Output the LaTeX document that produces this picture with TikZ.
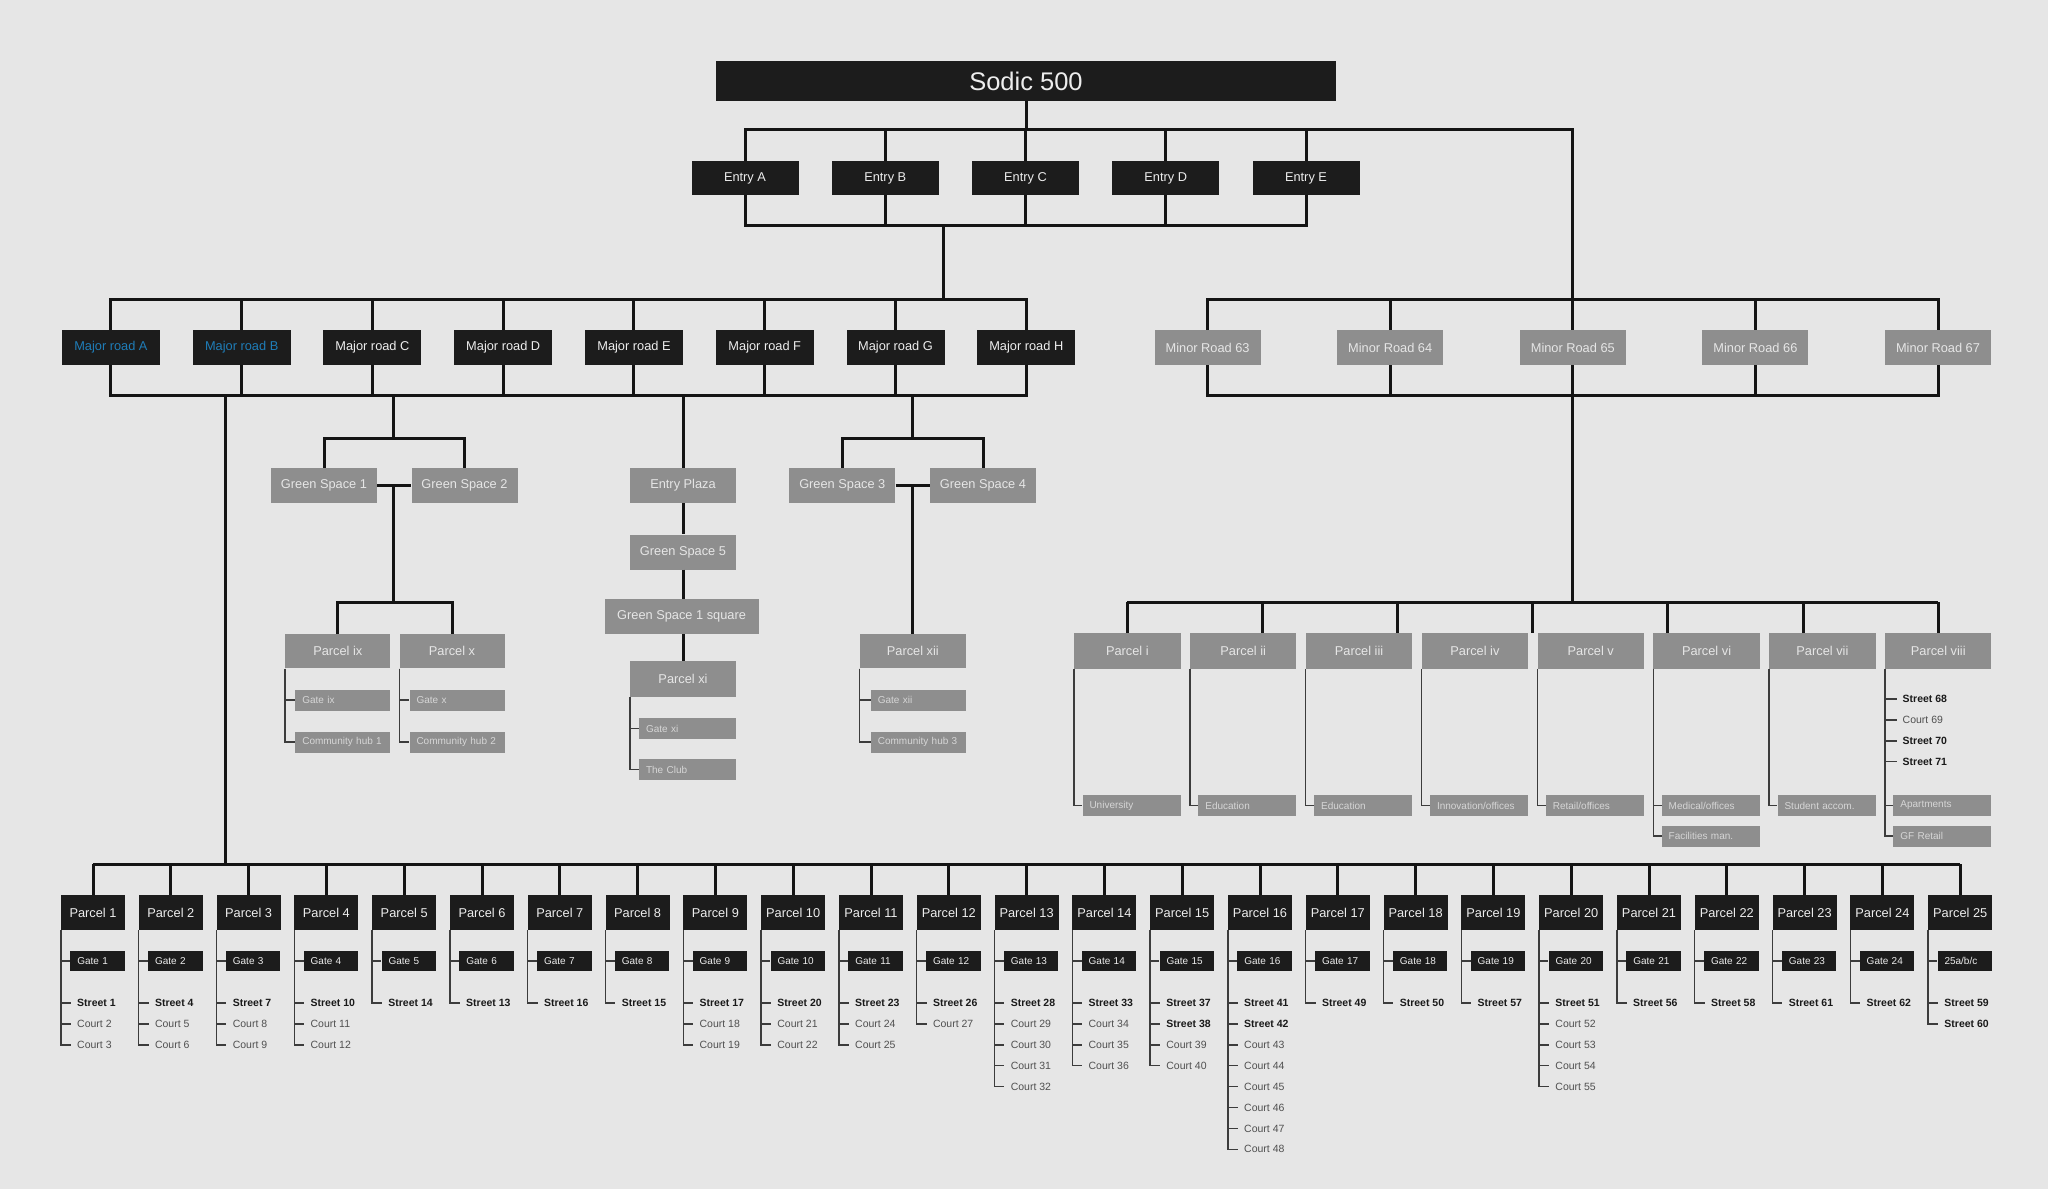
\documentclass[tikz,border=0pt]{standalone}
\usepackage{fontspec}
\setmainfont{Liberation Sans}
\definecolor{bg}{HTML}{E6E6E6}
\definecolor{boxblack}{HTML}{1C1C1C}
\definecolor{boxgray}{HTML}{8E8E8E}
\definecolor{boxtext}{HTML}{EDEDED}
\definecolor{graytext}{HTML}{E6E6E6}
\definecolor{subtext}{HTML}{D6D6D6}
\definecolor{linec}{HTML}{141414}
\definecolor{thinc}{HTML}{3C3C3C}
\definecolor{roadblue}{HTML}{1F7DB8}
\definecolor{streetc}{HTML}{1A1A1A}
\definecolor{courtc}{HTML}{505050}
\def\nmS{Street}
\def\nmC{Court}
\begin{document}
\begin{tikzpicture}[x=1pt,y=-1pt,
  box/.style={inner sep=0pt, minimum height=35pt, font=\fontsize{12.8}{15}\selectfont},
  blk/.style={box, fill=boxblack, text=boxtext},
  gry/.style={box, fill=boxgray, text=graytext},
  conn/.style={draw=linec, line width=3pt},
  thin/.style={draw=thinc, line width=1.4pt},
  gateb/.style={fill=boxblack, text=boxtext, inner xsep=7pt, inner ysep=0pt, minimum height=20.5pt, text width=40.5pt, align=left, anchor=east, font=\fontsize{10}{12}\selectfont},
  gsub/.style={fill=boxgray, text=subtext, inner xsep=7pt, inner ysep=0pt, minimum height=21pt, text width=#1, align=left, anchor=east, font=\fontsize{10}{12}\selectfont},
  gsub/.default=81pt,
  rowS/.style={anchor=west, inner sep=0pt, font=\fontsize{10.5}{12}\selectfont\bfseries, text=streetc},
  rowC/.style={anchor=west, inner sep=0pt, font=\fontsize{10.5}{12}\selectfont, text=courtc}]
\fill[bg] (0,0) rectangle (2048,1189);
\useasboundingbox (0,0) rectangle (2048,1189);

% level coordinates
\coordinate (tb) at (0,129);
\coordinate (ebar) at (0,225);
\coordinate (mtop) at (0,299);
\coordinate (mbot) at (0,395);
\coordinate (gbar) at (0,438);
\coordinate (gmid) at (0,485.5);
\coordinate (pxbar) at (0,602);
\coordinate (pbar) at (0,864);
\coordinate (ya) at (0,700);
\coordinate (yb) at (0,742);
\coordinate (yc) at (0,728.5);
\coordinate (yd) at (0,769.5);
\coordinate (ye) at (0,805.5);
\coordinate (yf) at (0,836);

% top
\node[blk, minimum width=620pt, minimum height=40pt, font=\fontsize{25.5}{30}\selectfont] (sodic) at (1026,81) {Sodic 500};
\foreach \l [count=\k from 0] in {A,B,C,D,E}
  \node[blk, minimum width=107pt, minimum height=34pt] (e\l) at (745+140.25*\k,178) {Entry \l};

\foreach \l/\tc [count=\k from 0] in {A/roadblue,B/roadblue,C/boxtext,D/boxtext,E/boxtext,F/boxtext,G/boxtext,H/boxtext}
  \node[blk, minimum width=98pt, text=\tc] (m\l) at (110.9+130.77*\k,347.5) {Major road \l};

\foreach \n [count=\k from 0] in {63,64,65,66,67}
  \node[gry, minimum width=106pt] (r\n) at (1207.6+182.6*\k,347.5) {Minor Road \n};

% top connectors
\draw[conn] (sodic.south) -- (sodic.south |- tb);
\draw[conn] (eA.north) -- (eA.north |- tb) -- (r65.north |- tb) -- (r65.north);
\foreach \l in {B,C,D,E} \draw[conn] (e\l.north) -- (e\l.north |- tb);
\draw[conn] (eA.south) -- (eA.south |- ebar) -- (eE.south |- ebar) -- (eE.south);
\foreach \l in {B,C,D} \draw[conn] (e\l.south) -- (e\l.south |- ebar);
\coordinate (ej) at (943,225);
\draw[conn] (ej) -- (ej |- mtop);
\draw[conn] (mA.north) -- (mA.north |- mtop) -- (mH.north |- mtop) -- (mH.north);
\foreach \l in {B,C,D,E,F,G} \draw[conn] (m\l.north) -- (m\l.north |- mtop);
\draw[conn] (mA.south) -- (mA.south |- mbot) -- (mH.south |- mbot) -- (mH.south);
\foreach \l in {B,C,D,E,F,G} \draw[conn] (m\l.south) -- (m\l.south |- mbot);
\draw[conn] (r63.north) -- (r63.north |- mtop) -- (r67.north |- mtop) -- (r67.north);
\foreach \n in {64,66} \draw[conn] (r\n.north) -- (r\n.north |- mtop);
\draw[conn] (r63.south) -- (r63.south |- mbot) -- (r67.south |- mbot) -- (r67.south);
\foreach \n in {64,66} \draw[conn] (r\n.south) -- (r\n.south |- mbot);
\draw[conn] (r65.south) -- (r65.south |- pxbar);

% middle: green spaces 1/2
\node[gry, minimum width=106pt] (gs1) at (324,485.5) {Green Space 1};
\node[gry, minimum width=106pt] (gs2) at (464.5,485.5) {Green Space 2};
\node[gry, minimum width=105pt, minimum height=34.6pt] (pix) at (337.8,651) {Parcel ix};
\node[gry, minimum width=105pt, minimum height=34.6pt] (px) at (452,651) {Parcel x};
\node[gsub] (gix) at (pix.east |- ya) {Gate ix};
\node[gsub] (chi) at (pix.east |- yb) {Community hub 1};
\node[gsub] (gx) at (px.east |- ya) {Gate x};
\node[gsub] (chii) at (px.east |- yb) {Community hub 2};
\coordinate (d12) at (393.5,395);
\draw[conn] (d12) -- (d12 |- gbar);
\draw[conn] (gs1.north) -- (gs1.north |- gbar) -- (gs2.north |- gbar) -- (gs2.north);
\draw[conn] (gs1.east) -- (gs2.west);
\draw[conn] (d12 |- gmid) -- (d12 |- pxbar);
\draw[conn] (pix.north) -- (pix.north |- pxbar) -- (px.north |- pxbar) -- (px.north);
\draw[thin] (pix.south west) |- (gix.west);
\draw[thin] (pix.south west) |- (chi.west);
\draw[thin] (px.south west) |- (gx.west);
\draw[thin] (px.south west) |- (chii.west);

% entry plaza column
\node[gry, minimum width=106pt] (ep) at (683,485.5) {Entry Plaza};
\node[gry, minimum width=106pt] (gs5) at (683,552) {Green Space 5};
\node[gry, minimum width=154pt] (gsq) at (681.6,616.3) {Green Space 1 square};
\node[gry, minimum width=106pt, minimum height=35.6pt] (pxi) at (683,679) {Parcel xi};
\node[gsub=83pt] (gxi) at (pxi.east |- yc) {Gate xi};
\node[gsub=83pt] (club) at (pxi.east |- yd) {The Club};
\draw[conn] (ep.north |- mbot) -- (ep.north);
\draw[conn] (ep.south) -- (gs5.north);
\draw[conn] (gs5.south) -- (gs5.south |- gsq.north);
\draw[conn] (gsq.south -| pxi.north) -- (pxi.north);
\draw[thin] (pxi.south west) |- (gxi.west);
\draw[thin] (pxi.south west) |- (club.west);

% green spaces 3/4
\node[gry, minimum width=106pt] (gs3) at (842.3,485.5) {Green Space 3};
\node[gry, minimum width=106pt] (gs4) at (983,485.5) {Green Space 4};
\node[gry, minimum width=106pt, minimum height=34.6pt] (pxii) at (912.8,651) {Parcel xii};
\node[gsub] (gxii) at (pxii.east |- ya) {Gate xii};
\node[gsub] (chiii) at (pxii.east |- yb) {Community hub 3};
\coordinate (d34) at (912.8,395);
\draw[conn] (d34) -- (d34 |- gbar);
\draw[conn] (gs3.north) -- (gs3.north |- gbar) -- (gs4.north |- gbar) -- (gs4.north);
\draw[conn] (gs3.east) -- (gs4.west);
\draw[conn] (d34 |- gmid) -- (pxii.north);
\draw[thin] (pxii.south west) |- (gxii.west);
\draw[thin] (pxii.south west) |- (chiii.west);

% parcels i - viii
\foreach \r [count=\k from 0] in {i,ii,iii,iv,v,vi,vii,viii}
  \node[gry, minimum width=106.3pt, minimum height=35.4pt] (q\r) at (1127.35+115.84*\k,651) {Parcel \r};
\foreach \k in {0,...,6} {
  \coordinate (dq\k) at (1127.35+135.14*\k,633.3);
  \draw[conn] (dq\k |- pxbar) -- (dq\k);
}
\draw[conn] (qi.north |- pxbar) -- (qviii.north |- pxbar);
\foreach \r/\lab in {i/University, ii/Education, iii/Education, iv/Innovation\slash offices, v/Retail\slash offices, vi/Medical\slash offices, vii/Student accom., viii/Apartments} {
  \node[gsub=84pt] (u\r) at (q\r.east |- ye) {\lab};
  \draw[thin] (q\r.south west) |- (u\r.west);
}
\node[gsub=84pt] (fm) at (qvi.east |- yf) {Facilities man.};
\draw[thin] (qvi.south west) |- (fm.west);
\node[gsub=84pt] (gfr) at (qviii.east |- yf) {GF Retail};
\draw[thin] (qviii.south west) |- (gfr.west);
\foreach \tp/\n [count=\j from 0] in {S/68,C/69,S/70,S/71} {
  \node[row\tp] (v\n) at (1902.5,699+20.9*\j) {\csname nm\tp\endcsname\ \n};
  \draw[thin] (qviii.south west |- v\n.west) -- ++(12,0);
}

% parcels 1 - 25
\coordinate (dl) at (225,395);
\draw[conn] (dl) -- (dl |- pbar);
\foreach \i/\items in {1/{S/1,C/2,C/3}, 2/{S/4,C/5,C/6}, 3/{S/7,C/8,C/9}, 4/{S/10,C/11,C/12}, 5/{S/14}, 6/{S/13}, 7/{S/16}, 8/{S/15}, 9/{S/17,C/18,C/19}, 10/{S/20,C/21,C/22}, 11/{S/23,C/24,C/25}, 12/{S/26,C/27}, 13/{S/28,C/29,C/30,C/31,C/32}, 14/{S/33,C/34,C/35,C/36}, 15/{S/37,S/38,C/39,C/40}, 16/{S/41,S/42,C/43,C/44,C/45,C/46,C/47,C/48}, 17/{S/49}, 18/{S/50}, 19/{S/57}, 20/{S/51,C/52,C/53,C/54,C/55}, 21/{S/56}, 22/{S/58}, 23/{S/61}, 24/{S/62}, 25/{S/59,S/60}} {
  \pgfmathsetmacro\cx{93+77.8*(\i-1)}
  \node[blk, minimum width=64pt] (p\i) at (\cx,912.5) {Parcel \i};
  \ifnum\i=25 \def\gl{25a/b/c}\else\def\gl{Gate \i}\fi
  \node[gateb] (g\i) at (\cx+32,961) {\gl};
  \draw[thin] (p\i.south west |- g\i.west) -- (g\i.west);
  \foreach \tp/\n [count=\j from 0] in \items {
    \node[row\tp] (t\i-\n) at (\cx-16,1003+20.9*\j) {\csname nm\tp\endcsname\ \n};
    \draw[thin] (p\i.south west) -- (p\i.south west |- t\i-\n.west) -- ++(10,0);
  }
  \draw[conn] (p\i.north) -- (p\i.north |- pbar);
}
\draw[conn] (p1.north |- pbar) -- (p25.north |- pbar);
\end{tikzpicture}
\end{document}
